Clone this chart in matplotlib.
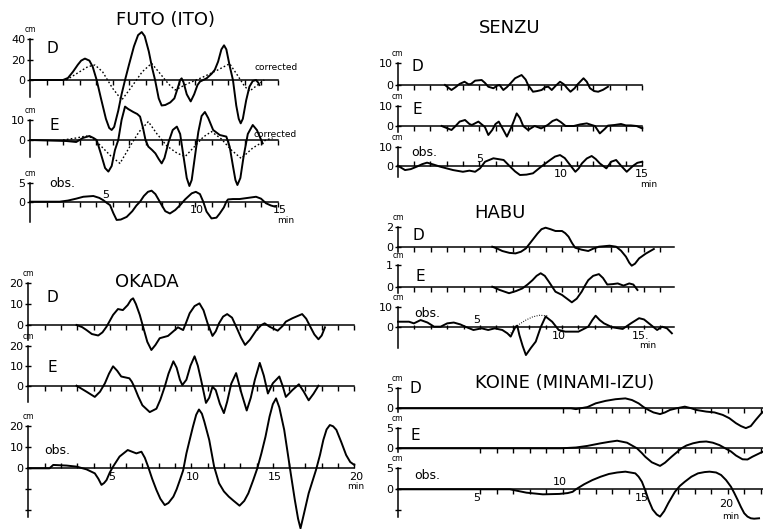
import matplotlib
matplotlib.use("Agg")
import matplotlib.pyplot as plt

plt.rcParams['font.family'] = ['DejaVu Sans']

W, H = 763, 529

# ---- FUTO (ITO) ----  (time in min, height in cm)
futo_d = [(0, 0), (2.0, 0), (2.3, 2), (2.6, 8), (2.9, 15), (3.1, 19), (3.33, 21), (3.6, 19), (3.8, 13),
          (4.04, 0), (4.3, -18), (4.6, -38), (4.8, -47), (4.95, -49), (5.1, -46), (5.35, -30), (5.55, -14),
          (5.76, 0), (6.0, 15), (6.3, 33), (6.55, 44), (6.77, 47), (6.95, 43), (7.2, 28), (7.4, 12),
          (7.58, 0), (7.8, -18), (7.98, -25), (8.2, -24.5), (8.5, -22), (8.75, -18), (8.95, -8), (9.1, 0),
          (9.19, 1.6), (9.3, -2), (9.5, -14), (9.74, -21), (9.95, -14), (10.15, -5), (10.3, -1.6),
          (10.7, 1.6), (11.0, 6), (11.2, 10), (11.4, 18), (11.6, 30), (11.76, 34), (11.9, 30), (12.1, 14),
          (12.3, 0), (12.5, -25), (12.65, -38), (12.77, -42.5), (12.9, -38), (13.1, -20), (13.3, -6.5),
          (13.5, -1), (13.7, 0), (13.85, -3), (13.9, -5)]
futo_d_corr = [(2.2, 0), (3.0, 8), (3.5, 13), (3.94, 14.7), (4.4, 8), (5.0, -8), (5.56, -19.6), (6.1, -8),
               (6.8, 8), (7.37, 16.3), (7.9, 6), (8.4, -4), (8.8, -9.8), (9.5, -4), (10.5, 3), (11.4, 10),
               (12.1, 16), (12.6, 4), (13.0, -6), (13.3, -11), (13.7, -6), (14.2, 0)]
futo_e = [(0, 0), (2.2, -0.5), (2.8, -1), (3.2, 1), (3.6, 2), (3.85, 1), (4.04, 0), (4.3, -7), (4.55, -14),
          (4.75, -15.8), (4.95, -13), (5.15, -5), (5.35, 0), (5.55, 10), (5.76, 16.7), (5.95, 15.5),
          (6.26, 14), (6.5, 13), (6.67, 11.7), (6.85, 6), (7.0, 0), (7.17, -3.3), (7.4, -5), (7.6, -6.7),
          (7.8, -9.5), (7.98, -11.7), (8.15, -9), (8.4, -1), (8.65, 5), (8.9, 6.7), (9.1, 3), (9.3, -8),
          (9.5, -19), (9.66, -23), (9.8, -20), (10.0, -8), (10.2, 4), (10.4, 12), (10.6, 14), (10.8, 11),
          (11.1, 5), (11.5, 2.5), (11.9, 1.7), (12.1, -3.3), (12.3, -13), (12.45, -20), (12.57, -22.5),
          (12.75, -19), (12.95, -8), (13.2, 3), (13.5, 7.5), (13.75, 5), (14.1, -1.7)]
futo_e_corr = [(2.0, 0), (2.8, 1), (3.4, 2), (3.8, 1), (4.3, -3), (4.9, -8), (5.45, -11.7), (6.0, -4),
               (6.6, 4), (7.17, 9.2), (7.7, 3), (8.3, -3), (8.9, -6.5), (9.4, -8.3), (10.0, -3), (10.5, 1.5),
               (11.0, 4.2), (11.6, 0.5), (12.2, -5), (12.8, -9.2), (13.5, -4), (14.3, 0), (14.7, 1)]
futo_obs = [(0, 0), (1.8, 0), (2.3, 0.3), (2.8, 0.8), (3.23, 1.3), (3.84, 1.5), (4.2, 1.0), (4.44, 0.4),
            (4.65, -0.3), (4.85, -0.9), (5.05, -3), (5.25, -4.8), (5.5, -4.7), (5.86, -4), (6.2, -2.5),
            (6.45, -1), (6.67, 0), (6.9, 1.5), (7.15, 2.6), (7.37, 2.9), (7.6, 2), (7.8, 0.5), (7.98, -0.9),
            (8.2, -2.5), (8.48, -3.1), (8.8, -2.2), (9.1, -0.9), (9.4, 0.6), (9.8, 2.2), (10.05, 2.6),
            (10.3, 2), (10.5, 0), (10.7, -2.6), (11.0, -4.4), (11.3, -4.2), (11.5, -3.1), (11.75, -1.5),
            (11.9, 0), (12.0, 0.6), (12.3, 0.7), (12.7, 0.7), (13.2, 1.0), (13.7, 1.3), (14.0, 0.8),
            (14.3, -0.4), (14.6, -1.0), (14.85, -1.3)]

# ---- OKADA ----
okada_d = [(2.96, 0), (3.3, -1), (3.57, -2.4), (3.9, -4.3), (4.29, -5), (4.55, -3.5), (4.8, -0.8), (5.0, 2),
           (5.2, 4.8), (5.5, 7.6), (5.8, 7.1), (6.1, 9.5), (6.3, 12), (6.43, 12.7), (6.6, 10), (6.84, 4.8),
           (7.04, -0.8), (7.3, -8), (7.55, -11.9), (7.8, -9.5), (8.06, -6.3), (8.57, -5.2), (8.9, -3),
           (9.18, -1.1), (9.5, -2.4), (9.7, 1.5), (9.9, 5.6), (10.2, 9), (10.5, 10.3), (10.75, 7),
           (11.0, 0.8), (11.3, -5.2), (11.5, -3), (11.7, 0.8), (11.95, 4), (12.2, 5.2), (12.5, 3.5),
           (12.8, -1.6), (13.05, -6), (13.3, -9.5), (13.6, -7), (14.0, -2.4), (14.3, 0), (14.5, 0.8),
           (14.8, -0.8), (15.3, -2.7), (15.6, -0.5), (15.8, 1.6), (16.2, 3.2), (16.5, 4.2), (16.8, 5.2),
           (17.05, 3), (17.3, -0.8), (17.55, -4.5), (17.8, -6.8), (18.0, -5), (18.2, -1.1)]
okada_e = [(2.96, 0), (3.57, -3), (4.08, -5.6), (4.4, -3), (4.7, 1.2), (4.95, 6), (5.2, 9.7), (5.45, 7.5),
           (5.7, 4.6), (6.2, 3.7), (6.35, 2), (6.5, -0.5), (6.75, -5.5), (7.0, -9.8), (7.45, -13.2),
           (7.86, -11.5), (8.1, -7), (8.37, -0.5), (8.6, 6), (8.9, 12.2), (9.1, 9), (9.3, 3), (9.45, 0.3),
           (9.7, 3), (9.95, 10), (10.2, 14.7), (10.4, 10), (10.6, 2.9), (10.9, -8.6), (11.1, -6),
           (11.3, -0.5), (11.5, -2.2), (11.75, -9), (12.0, -13.7), (12.2, -8), (12.45, 1), (12.75, 6.3),
           (13.05, -3), (13.4, -12.4), (13.65, -6), (13.9, 3), (14.2, 11.4), (14.45, 5), (14.7, -3.9),
           (15.0, 1.2), (15.4, 4.6), (15.6, 0), (15.8, -5.6), (16.2, -2.2), (16.6, 0.7), (16.9, -3),
           (17.2, -7.3), (17.5, -4), (17.8, 0)]
okada_obs = [(0, 0), (1.3, 0), (1.53, 1.6), (2.35, 1.3), (2.96, 0.8), (3.57, -0.5), (4.08, -2.4), (4.3, -5),
             (4.49, -7.9), (4.65, -7), (4.8, -5.6), (5.0, -2), (5.2, 0.8), (5.6, 5.6), (6.1, 8.7),
             (6.63, 7.1), (6.94, 7.9), (7.15, 5), (7.35, 0.8), (7.6, -5), (7.86, -10.3), (8.1, -14.5),
             (8.37, -17.5), (8.6, -16.5), (8.9, -13.5), (9.1, -10), (9.3, -5.6), (9.5, -1), (9.7, 7.1),
             (9.9, 13.5), (10.1, 19.8), (10.3, 25.5), (10.47, 28), (10.65, 26), (10.8, 22.2), (11.1, 13.5),
             (11.4, 0.8), (11.7, -7.1), (12.0, -11), (12.3, -13.5), (12.6, -15.5), (12.96, -17.8),
             (13.25, -15.5), (13.5, -11.9), (13.8, -5.6), (14.05, 0), (14.3, 7.1), (14.55, 15), (14.8, 24.6),
             (15.0, 30.5), (15.2, 33.3), (15.4, 29), (15.7, 18.3), (15.9, 8), (16.1, -2.4), (16.35, -15),
             (16.55, -24), (16.7, -28.6), (16.9, -22), (17.2, -11.9), (17.65, -0.8), (17.9, 6.5),
             (18.1, 13.5), (18.3, 18.5), (18.5, 20.6), (18.7, 20), (18.9, 18.3), (19.2, 12.5), (19.5, 6.3),
             (19.75, 3), (20.0, 1.6)]

# ---- SENZU ----
senzu_d = [(2.9, 0), (3.1, -1.2), (3.3, -2.3), (3.55, -1), (3.8, 0.5), (4.1, 1.5), (4.35, 0.3), (4.5, 0.5),
           (4.75, 2), (5.15, 2.3), (5.35, 1), (5.56, -0.8), (5.87, -1.5), (6.1, -0.3), (6.25, 0), (6.48, -2.3),
           (6.7, -1), (6.95, 1), (7.2, 3.1), (7.6, 4.6), (7.85, 2.5), (8.0, 0), (8.3, -3.1), (8.55, -2.8),
           (8.83, -2.3), (9.05, -1), (9.24, -0.8), (9.45, -2.3), (9.7, -0.3), (9.96, 1.5), (10.2, 0.3),
           (10.4, -1.5), (10.6, -3.1), (10.85, -1.5), (11.0, 0), (11.4, 3.1), (11.6, 1.5), (11.8, -1.5),
           (12.05, -2.8), (12.3, -3.1), (12.6, -2.2), (12.9, -0.8)]
senzu_e = [(2.7, 0), (3.0, -1), (3.3, -2), (3.55, 0), (3.8, 2.2), (4.13, 3), (4.4, 1), (4.55, 0.5),
           (4.95, 2.2), (5.2, 0.5), (5.35, -0.5), (5.56, -4.5), (5.8, -2), (6.0, 1), (6.2, 2.2), (6.45, -1.5),
           (6.7, -5.3), (6.95, -1), (7.1, 2), (7.3, 6.3), (7.5, 4), (7.7, 0), (8.0, -2), (8.4, 0), (8.8, -1.2),
           (9.2, 0.5), (9.5, 2.5), (9.75, 3.3), (10.0, 2), (10.3, 0), (10.8, 0), (11.2, 0.8), (11.6, 1.3),
           (11.9, 0.5), (12.1, 0), (12.4, -3.7), (12.7, -1.5), (12.9, 0.2), (13.3, 0.5), (13.7, 1),
           (14.0, 0.3), (14.3, 0.3), (14.65, 0), (15.0, -1.2)]
senzu_obs = [(0, 0), (0.2, -1), (0.45, -2.3), (0.8, -1.8), (1.17, -0.5), (1.5, 0.8), (1.8, 1.6), (2.2, 0.6),
             (2.6, -0.5), (3.0, -1.4), (3.4, -2.3), (4.0, -3.2), (4.4, -2.6), (4.75, -3.2), (5.05, -1.4),
             (5.36, 2.1), (5.87, 3.9), (6.5, 3), (6.9, -0.5), (7.2, -3), (7.5, -4.9), (7.9, -4.7), (8.3, -4),
             (8.8, -0.5), (9.35, 3), (9.65, 4.8), (9.96, 5.6), (10.25, 4), (10.5, 1.2), (10.9, -3.2),
             (11.1, -1.5), (11.3, 1.2), (11.6, 3.8), (11.9, 5.1), (12.15, 3.5), (12.4, 1.2), (12.8, -1.4),
             (13.1, 2.1), (13.4, 3), (13.7, 0), (14.05, -3.2), (14.45, 0), (14.7, 1.5), (15.0, 2.1)]

# ---- HABU ----
habu_d = [(5.75, 0), (6.0, -0.15), (6.36, -0.43), (6.8, -0.62), (7.17, -0.67), (7.5, -0.5), (7.8, -0.17),
          (8.0, 0.25), (8.2, 0.67), (8.5, 1.3), (8.75, 1.75), (9.0, 1.9), (9.3, 1.75), (9.6, 1.57),
          (10.0, 1.57), (10.2, 1.35), (10.4, 1.0), (10.6, 0.4), (10.8, -0.1), (11.2, -0.3), (11.6, -0.43),
          (11.9, -0.2), (12.25, 0), (12.9, 0.1), (13.3, 0), (13.6, -0.4), (13.9, -1), (14.1, -1.6),
          (14.25, -1.9), (14.45, -1.7), (14.7, -1.17), (15.1, -0.7), (15.6, -0.23)]
habu_e = [(5.75, 0), (6.2, -0.15), (6.77, -0.3), (7.2, -0.2), (7.58, -0.08), (7.9, 0.1), (8.2, 0.3),
          (8.45, 0.5), (8.7, 0.62), (8.95, 0.5), (9.2, 0.23), (9.4, 0), (9.6, -0.23), (10.0, -0.38),
          (10.3, -0.55), (10.6, -0.72), (10.9, -0.55), (11.2, -0.23), (11.4, 0.05), (11.6, 0.3), (11.9, 0.5),
          (12.25, 0.58), (12.5, 0.4), (12.76, 0.1), (13.1, 0.12), (13.4, 0.15), (13.75, 0.05), (14.1, 0.15),
          (14.35, 0.1), (14.6, -0.15)]
habu_obs = [(0, 2.7), (0.67, 2.7), (0.97, 1.9), (1.38, 3.5), (1.8, 2.3), (2.2, 0.3), (2.6, 0.3), (3.0, 1.9),
            (3.4, 2.3), (3.8, 1.4), (4.1, 0.3), (4.6, -1.3), (5.1, -0.5), (5.5, -1.3), (5.9, -0.5),
            (6.36, -1.3), (6.67, -2.9), (6.87, -4.5), (7.05, -1.5), (7.17, 0.3), (7.27, 0.8), (7.4, -3.7),
            (7.6, -9), (7.8, -13.4), (8.1, -10), (8.4, -6.9), (8.7, 0), (9.0, 5.2), (9.4, 2.7), (9.8, -1.3),
            (10.2, -2.1), (11.0, -2.1), (11.6, 0.3), (11.85, 3.5), (12.05, 5.6), (12.3, 3.5), (12.56, 1.9),
            (13.07, 0), (13.7, -0.8), (14.2, 1.9), (14.7, 4.4), (15.0, 3.8), (15.3, 1.9), (15.8, -1.3),
            (16.1, 0.3), (16.4, -0.5), (16.7, -2.9)]
habu_obs_dot = [(6.77, -3.7), (7.1, -1), (7.4, 1.5), (7.8, 3.5), (8.2, 5), (8.6, 5.8), (9.1, 5.6)]

# ---- KOINE (MINAMI-IZU) ----
koine_d = [(0, 0), (10.5, 0), (10.8, -0.2), (11.5, 0.3), (12.0, 1.2), (12.6, 1.8), (13.2, 2.2), (13.8, 2.4),
           (14.2, 2.0), (14.6, 1.2), (14.9, 0.3), (15.2, -0.4), (15.5, -1.0), (15.9, -1.4), (16.2, -1.0),
           (16.5, -0.4), (16.9, 0), (17.4, 0.4), (17.8, 0), (18.1, -0.4), (18.7, -0.8), (19.2, -1.0),
           (19.7, -1.6), (20.1, -2.4), (20.5, -3.6), (20.8, -4.3), (21.1, -4.8), (21.4, -4.3), (21.7, -2.8),
           (22.0, -1.4), (22.2, -0.6)]
koine_e = [(0, 0), (9.9, 0), (10.8, 0.2), (11.5, 0.6), (12.3, 1.25), (12.8, 1.6), (13.3, 1.9), (13.9, 1.4),
           (14.5, 0), (14.8, -1.2), (15.0, -2.1), (15.4, -3.5), (15.9, -4.4), (16.2, -3.6), (16.6, -2.1),
           (17.2, 0), (17.5, 0.7), (17.9, 1.25), (18.3, 1.6), (18.7, 1.7), (19.1, 1.4), (19.5, 0.8),
           (20.2, -0.8), (20.5, -1.8), (20.9, -2.75), (21.2, -2.8), (21.5, -2.1), (21.8, -1.5), (22.1, -0.9)]
koine_obs = [(0, 0), (6.8, 0), (7.3, -0.4), (7.8, -0.8), (8.8, -1.2), (9.8, -1.1), (10.3, -0.9), (10.6, -0.6),
             (10.8, 0), (11.3, 1.2), (11.8, 2.2), (12.3, 3.0), (12.8, 3.65), (13.3, 4.0), (13.8, 4.2),
             (14.4, 3.8), (14.6, 3.0), (14.8, 1.8), (15.0, -0.2), (15.2, -2.5), (15.45, -4.8), (15.7, -6.0),
             (15.9, -6.5), (16.15, -5.2), (16.4, -3.3), (16.8, -0.6), (17.1, 0.8), (17.4, 1.8), (17.8, 3.0),
             (18.2, 3.8), (18.6, 4.1), (18.9, 4.2), (19.3, 4.0), (19.6, 3.4), (19.9, 2.2), (20.2, 0.6),
             (20.4, -0.9), (20.6, -2.5), (20.8, -4.2), (21.0, -5.7), (21.2, -6.5), (21.4, -6.9), (21.6, -7.0),
             (21.9, -6.9)]

fig = plt.figure(figsize=(W / 100, H / 100), dpi=100)
fig.patch.set_facecolor('white')


def trace_ax(x0, ppm, tmax, y0, ppc, vlo, vhi, yticks, ylabels, name, name_pos,
             tick_dir='out', ticks_from=1):
    # x0 / y0: pixel position of t=0 and of the zero line; ppm, ppc: pixels per min / per cm
    top = y0 - vhi * ppc
    bot = y0 - vlo * ppc
    ax = fig.add_axes([x0 / W, 1 - bot / H, tmax * ppm / W, (bot - top) / H])
    ax.set_xlim(0, tmax)
    ax.set_ylim(vlo, vhi)
    ax.patch.set_visible(False)
    ax.spines['top'].set_visible(False)
    ax.spines['right'].set_visible(False)
    ax.spines['bottom'].set_position(('data', 0))
    ax.spines['bottom'].set_linewidth(1.1)
    ax.spines['left'].set_linewidth(1.1)
    ax.set_xticks([t for t in range(ticks_from, int(tmax) + 1)])
    ax.set_xticklabels([])
    ax.tick_params(axis='x', direction=tick_dir, length=3.5, width=1.0)
    ax.set_yticks(yticks, ylabels)
    ax.tick_params(axis='y', direction='inout', length=5, width=1.0, pad=1, labelsize=8)
    ax.annotate('cm', xy=(0, vhi), xytext=(0, 3.5), textcoords='offset points',
                ha='center', va='bottom', fontsize=5.5, annotation_clip=False)
    ax.text(name_pos[0], name_pos[1], name, ha='center', va='center',
            fontsize=11 if name != 'obs.' else 9)
    return ax


def draw(ax, pts, **kw):
    t, v = zip(*pts)
    style = dict(color='black', lw=1.4, clip_on=False, solid_joinstyle='round')
    style.update(kw)
    ax.plot(t, v, **style)


def tlabel(ax, t, s, above=False, fs=8):
    if above:
        ax.annotate(s, xy=(t, 0), xytext=(0, 1.5), textcoords='offset points',
                    ha='center', va='bottom', fontsize=fs, annotation_clip=False)
    else:
        ax.annotate(s, xy=(t, 0), xytext=(0, -2.5), textcoords='offset points',
                    ha='center', va='top', fontsize=fs, annotation_clip=False)


def minlabel(ax, t, dy=-10):
    ax.annotate('min', xy=(t, 0), xytext=(0, dy), textcoords='offset points',
                ha='center', va='top', fontsize=6.5, annotation_clip=False)


dotted = dict(lw=1.0, linestyle=(0, (1.2, 1.6)))

# FUTO (ITO)
fig.text(165 / W, 1 - 20 / H, 'FUTO (ITO)', ha='center', va='center', fontsize=13)
ax = trace_ax(30, 16.5, 15, 80, 1.02, -17, 40, [0, 20, 40], ['0', '20', '40'], 'D', (1.35, 31))
draw(ax, futo_d)
draw(ax, futo_d_corr, **dotted)
ax.text(13.6, 11.8, 'corrected', fontsize=6.5, va='center', ha='left')
ax = trace_ax(30, 16.5, 15, 140, 2.0, -8.3, 10, [0, 10], ['0', '10'], 'E', (1.5, 7.5))
draw(ax, futo_e)
draw(ax, futo_e_corr, **dotted)
ax.text(13.55, 3.0, 'corrected', fontsize=6.5, va='center', ha='left')
ax = trace_ax(30, 16.5, 15, 201.7, 3.8, -5.3, 5, [0, 5], ['0', '5'], 'obs.', (1.95, 4.9))
draw(ax, futo_obs)
tlabel(ax, 4.6, '5', above=True)
tlabel(ax, 10.1, '10')
tlabel(ax, 15.15, '15')
minlabel(ax, 15.5)

# OKADA
fig.text(147 / W, 1 - 282 / H, 'OKADA', ha='center', va='center', fontsize=13)
ax = trace_ax(28.3, 16.3, 20, 325, 2.1, -7, 20, [0, 10, 20], ['0', '10', '20'], 'D', (1.5, 13.3))
draw(ax, okada_d)
ax = trace_ax(28.3, 16.3, 20, 385.7, 2.0, -8, 20, [0, 10, 20], ['0', '10', '20'], 'E', (1.45, 9.3))
draw(ax, okada_e)
ax = trace_ax(28.3, 16.3, 20, 468.3, 2.1, -23, 20, [-20, -10, 0, 10, 20], ['', '', '0', '10', '20'],
              'obs.', (1.8, 8.7), tick_dir='in')
draw(ax, okada_obs)
for t in (5, 10, 15, 20):
    tlabel(ax, t + 0.1, str(t))
minlabel(ax, 20.1)

# SENZU
fig.text(510 / W, 1 - 28 / H, 'SENZU', ha='center', va='center', fontsize=13)
ax = trace_ax(397.7, 16.3, 15, 85, 2.17, -2.5, 10, [0, 10], ['0', '10'], 'D', (1.2, 8.3))
draw(ax, senzu_d)
ax = trace_ax(397.7, 16.3, 15, 126, 2.0, -3, 10, [0, 10], ['0', '10'], 'E', (1.2, 8))
draw(ax, senzu_e)
ax = trace_ax(397.7, 16.3, 15, 165.7, 1.9, -6, 10, [0, 10], ['0', '10'], 'obs.', (1.6, 6.7),
              tick_dir='in')
draw(ax, senzu_obs)
tlabel(ax, 5.0, '5', above=True)
tlabel(ax, 10.0, '10')
tlabel(ax, 15.0, '15')
minlabel(ax, 15.4)

# HABU
fig.text(500 / W, 1 - 213 / H, 'HABU', ha='center', va='center', fontsize=13)
ax = trace_ax(398, 16.4, 16.8, 246.7, 10, -0.5, 2, [0, 2], ['0', '2'], 'D', (1.22, 1.17))
draw(ax, habu_d)
ax = trace_ax(398, 16.4, 16.8, 286.7, 21.7, -0.3, 1, [0, 1], ['0', '1'], 'E', (1.34, 0.45))
draw(ax, habu_e)
ax = trace_ax(398, 16.4, 16.8, 327.3, 2.07, -10, 10, [0, 10], ['0', '10'], 'obs.', (1.77, 6.9),
              tick_dir='inout')
draw(ax, habu_obs)
draw(ax, habu_obs_dot, lw=0.8, linestyle=(0, (0.8, 1.4)))
tlabel(ax, 4.8, '5', above=True)
tlabel(ax, 9.8, '10')
tlabel(ax, 14.8, '15.')
minlabel(ax, 15.2)

# KOINE (MINAMI-IZU)
fig.text(565 / W, 1 - 383 / H, 'KOINE (MINAMI-IZU)', ha='center', va='center', fontsize=13)
ax = trace_ax(397.7, 16.5, 22.15, 408.3, 4.13, -0.8, 5, [0, 5], ['0', '5'], 'D', (1.05, 4.9),
              ticks_from=10)
draw(ax, koine_d)
ax = trace_ax(397.7, 16.5, 22.15, 448.3, 4.0, -1, 5, [0, 5], ['0', '5'], 'E', (1.05, 3.3),
              ticks_from=5)
draw(ax, koine_e)
ax = trace_ax(397.7, 16.5, 22.15, 489.3, 4.2, -6.5, 5, [-5, 0, 5], ['', '0', '5'], 'obs.', (1.8, 3.4),
              ticks_from=5)
draw(ax, koine_obs)
tlabel(ax, 4.8, '5')
tlabel(ax, 9.8, '10', above=True)
tlabel(ax, 14.8, '15')
ax.annotate('20', xy=(19.9, 0), xytext=(0, -7), textcoords='offset points', ha='center', va='top',
            fontsize=8)
minlabel(ax, 20.2, dy=-16)

fig.savefig('out.png', dpi=100, facecolor='white')
